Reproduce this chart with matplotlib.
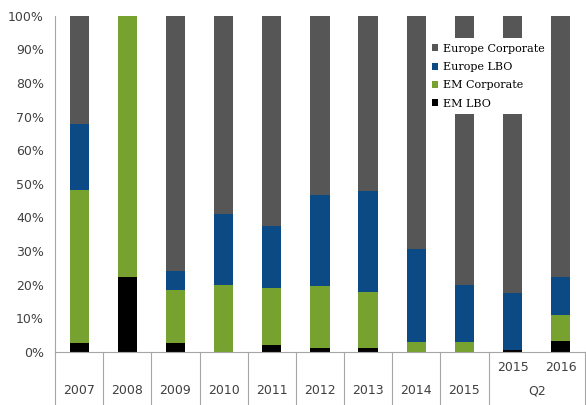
import matplotlib.pyplot as plt
from matplotlib.ticker import PercentFormatter
import numpy as np

# category labels (top line / group line)
years = ["2007", "2008", "2009", "2010", "2011", "2012", "2013", "2014", "2015", "2015", "2016"]
groups = ["", "", "", "", "", "", "", "", "", "Q2", "Q2"]

# shares in %
em_lbo = [2.7, 22.4, 2.6, 0.0, 2.1, 1.1, 1.3, 0.0, 0.0, 0.5, 3.3]
em_corp = [45.5, 77.6, 15.9, 20.0, 16.9, 18.5, 16.5, 2.9, 3.1, 0.0, 7.7]
eu_lbo = [19.7, 0.0, 5.7, 21.0, 18.6, 27.1, 30.1, 27.7, 16.9, 17.0, 11.4]
eu_corp = [100 - a - b - c for a, b, c in zip(em_lbo, em_corp, eu_lbo)]

colors = {"EM LBO": "#000000", "EM Corporate": "#77a22f",
          "Europe LBO": "#0b4a85", "Europe Corporate": "#565656"}

fig = plt.figure(figsize=(5.86, 4.05), dpi=100)
ax = fig.add_axes([0.094, 0.131, 0.904, 0.83])

x = np.arange(len(years))
w = 0.4
bottom = np.zeros(len(years))
handles = {}
for name, vals in [("EM LBO", em_lbo), ("EM Corporate", em_corp),
                   ("Europe LBO", eu_lbo), ("Europe Corporate", eu_corp)]:
    handles[name] = ax.bar(x, vals, w, bottom=bottom, color=colors[name], label=name, zorder=2)
    bottom += np.array(vals)

ax.set_xlim(-0.5, len(years) - 0.5)
ax.set_ylim(0, 100)
ax.set_yticks(range(0, 101, 10))
ax.yaxis.set_major_formatter(PercentFormatter(decimals=0))
ax.tick_params(axis="y", length=0, labelsize=9, labelcolor="#404040", pad=8)
ax.set_xticks([])
for s in ["top", "right"]:
    ax.spines[s].set_visible(False)
ax.spines["left"].set_color("#a6a6a6")
ax.spines["bottom"].set_color("#a6a6a6")

# category axis below: separators and two-level labels
trans = ax.get_xaxis_transform()
for b in np.arange(-0.5, len(years), 1.0):
    if b == 9.5:
        continue
    ax.plot([b, b], [0, -0.16], color="#a6a6a6", lw=0.8, transform=trans, clip_on=False)
for i, yr in enumerate(years):
    yy = -0.045 if groups[i] else -0.115
    ax.text(i, yy, yr, transform=trans, ha="center", va="center", fontsize=9, color="#404040")
ax.text(9.5, -0.115, "Q2", transform=trans, ha="center", va="center", fontsize=9, color="#404040")

leg = ax.legend([handles[n] for n in ["Europe Corporate", "Europe LBO", "EM Corporate", "EM LBO"]],
                ["Europe Corporate", "Europe LBO", "EM Corporate", "EM LBO"],
                loc="upper left", bbox_to_anchor=(0.69, 0.95), frameon=True, fancybox=False,
                edgecolor="none", facecolor="white", framealpha=1,
                prop={"family": "DejaVu Serif", "size": 8},
                handlelength=0.6, handleheight=0.6, handletextpad=0.4, labelspacing=0.75,
                borderpad=0.5)
leg.set_zorder(5)

fig.savefig("out.png", dpi=100)
